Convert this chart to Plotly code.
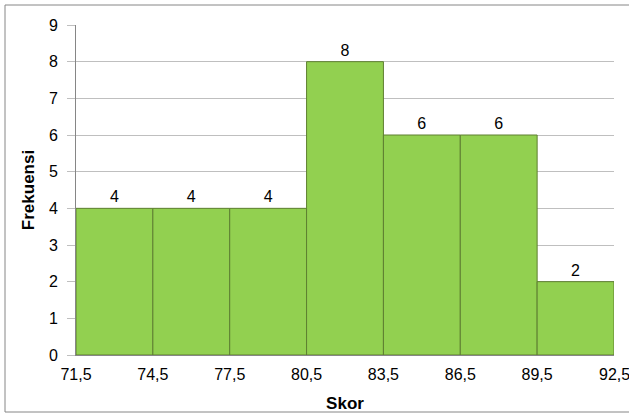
import plotly.graph_objects as go

edges = [71.5, 74.5, 77.5, 80.5, 83.5, 86.5, 89.5, 92.5]
freq = [4, 4, 4, 8, 6, 6, 2]
tick_labels = ["71,5", "74,5", "77,5", "80,5", "83,5", "86,5", "89,5", "92,5"]
y_ticks = list(range(0, 10))

centers = [(edges[i] + edges[i + 1]) / 2 for i in range(len(freq))]
widths = [edges[i + 1] - edges[i] for i in range(len(freq))]

W, H = 629, 417
ml, mr, mt, mb = 76, 15, 25, 62
pw, ph = W - ml - mr, H - mt - mb

FONT = "Liberation Sans, Arial"

fig = go.Figure(go.Bar(
    x=centers, y=freq, width=widths,
    marker=dict(color="#92D050", line=dict(color="#5E7F31", width=1)),
    text=[str(v) for v in freq], textposition="outside",
    textfont=dict(family=FONT, size=16, color="#000000"),
    cliponaxis=False,
))

fig.update_layout(
    width=W, height=H,
    margin=dict(l=ml, r=mr, t=mt, b=mb, autoexpand=False),
    paper_bgcolor="white", plot_bgcolor="white",
    showlegend=False,
    font=dict(family=FONT, size=16, color="#000000"),
    xaxis=dict(
        range=[edges[0], edges[-1]],
        tickvals=edges[:-1], ticktext=tick_labels[:-1],
        showgrid=False, zeroline=False, automargin=False,
        showline=True, linecolor="#868686", linewidth=1,
        ticks="", ticklabelstandoff=5,
        title=dict(text="<b>Skor</b>", font=dict(size=17), standoff=14),
    ),
    yaxis=dict(
        range=[0, 9], tickvals=y_ticks,
        showgrid=True, gridcolor="#BFBFBF", gridwidth=1,
        zeroline=False, automargin=False,
        showline=True, linecolor="#868686", linewidth=1,
        ticks="outside", ticklen=8, tickcolor="#BFBFBF",
        ticklabelstandoff=6,
        title=dict(text="<b>Frekuensi</b>", font=dict(size=17), standoff=9),
    ),
    annotations=[dict(
        x=edges[-1], y=0, xref="x", yref="y",
        text=tick_labels[-1], showarrow=False,
        yanchor="top", xanchor="center", yshift=-9,
        font=dict(family=FONT, size=16, color="#000000"),
    )],
    shapes=[dict(
        type="rect", xref="paper", yref="paper",
        x0=(5 - ml) / pw, x1=(660 - ml) / pw,
        y0=-(412 - (H - mb)) / ph, y1=1 + (mt - 5) / ph,
        line=dict(color="#868686", width=1), fillcolor="rgba(0,0,0,0)",
        layer="below",
    )],
)

fig.write_html("out.html")
